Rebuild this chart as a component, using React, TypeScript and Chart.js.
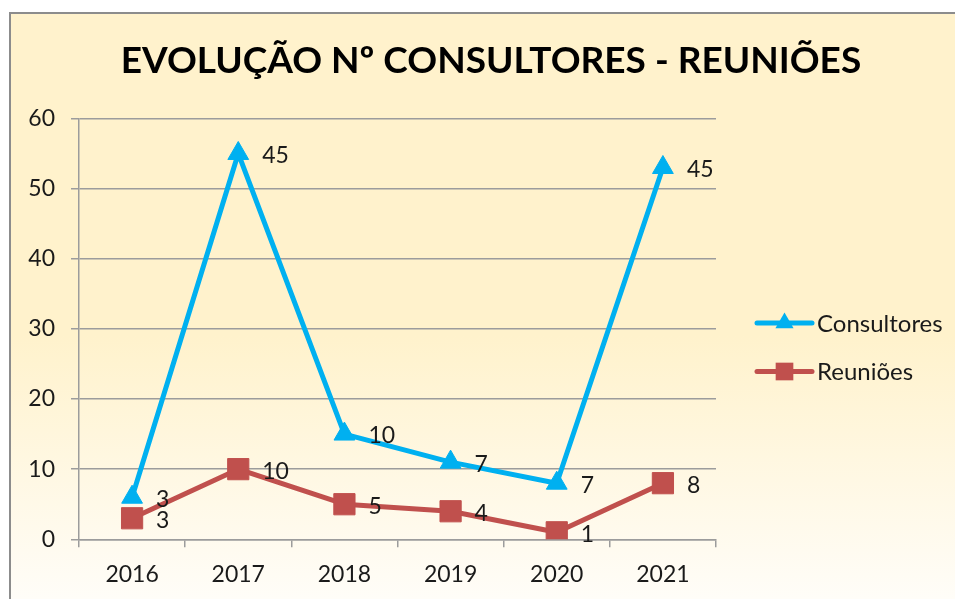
import React, { useEffect, useRef } from "react";
import { Chart, registerables } from "chart.js";
import { drawPoint } from "chart.js/helpers";

Chart.register(...registerables);

const TITLE = "EVOLUÇÃO Nº CONSULTORES - REUNIÕES";
const categories = ["2016", "2017", "2018", "2019", "2020", "2021"];
const consultoresValues = [6, 55, 15, 11, 8, 53];
const consultoresLabels = ["3", "45", "10", "7", "7", "45"];
const reunioesValues = [3, 10, 5, 4, 1, 8];
const reunioesLabels = ["3", "10", "5", "4", "1", "8"];
const yTicks = [0, 10, 20, 30, 40, 50, 60];

const FONT = "Lato";
const TEXT = "#1a1a1a";
const GRID = "#9c9c9c";
const BLUE = "#00B0F0";
const RED = "#C0504D";

const frameBackground = {
  id: "frameBackground",
  beforeDraw(chart: any) {
    const { ctx, width, height } = chart;
    ctx.save();
    ctx.fillStyle = "#ffffff";
    ctx.fillRect(0, 0, width, height);
    const g = ctx.createLinearGradient(0, 14, 0, height);
    g.addColorStop(0, "#FFF2CC");
    g.addColorStop(0.55, "#FFF2CC");
    g.addColorStop(1, "#FFFDF8");
    ctx.fillStyle = g;
    ctx.fillRect(11, 14, width - 11, height - 14);
    ctx.fillStyle = "#8c8c8c";
    ctx.fillRect(9, 12, width - 9, 2);
    ctx.fillRect(9, 12, 2, height - 12);
    ctx.restore();
  },
};

const valueLabels = {
  id: "valueLabels",
  afterDatasetsDraw(chart: any, _args: any, opts: any) {
    const ctx = chart.ctx;
    ctx.save();
    ctx.font = `23px ${FONT}`;
    ctx.fillStyle = TEXT;
    ctx.textAlign = "left";
    ctx.textBaseline = "middle";
    chart.data.datasets.forEach((_ds: any, i: number) => {
      const meta = chart.getDatasetMeta(i);
      const labels = opts.labels[i];
      meta.data.forEach((pt: any, j: number) => {
        ctx.fillText(labels[j], pt.x + opts.dx, pt.y + opts.dy);
      });
    });
    ctx.restore();
  },
};

const lineLegend = {
  id: "lineLegend",
  afterDraw(chart: any, _args: any, opts: any) {
    const ctx = chart.ctx;
    ctx.save();
    chart.data.datasets.forEach((ds: any, i: number) => {
      const y = opts.y + i * opts.spacing;
      const x0 = opts.x;
      const x1 = opts.x + opts.lineLength;
      ctx.strokeStyle = ds.borderColor;
      ctx.lineWidth = 5;
      ctx.lineCap = "round";
      ctx.beginPath();
      ctx.moveTo(x0, y);
      ctx.lineTo(x1, y);
      ctx.stroke();
      ctx.fillStyle = ds.pointBackgroundColor;
      drawPoint(
        ctx,
        { pointStyle: ds.pointStyle, radius: opts.radius[i], rotation: 0, borderWidth: 0 } as any,
        (x0 + x1) / 2,
        y
      );
      ctx.font = `24px ${FONT}`;
      ctx.fillStyle = TEXT;
      ctx.textAlign = "left";
      ctx.textBaseline = "middle";
      ctx.fillText(ds.label, x1 + 5, y + 1);
    });
    ctx.restore();
  },
};

export default function App() {
  const ref = useRef<HTMLCanvasElement | null>(null);
  useEffect(() => {
    if (!ref.current) return;
    const tickFont = { family: FONT, size: 23 };
    const chart = new Chart(ref.current, {
      type: "line",
      data: {
        labels: categories,
        datasets: [
          {
            label: "Consultores",
            data: consultoresValues,
            borderColor: BLUE,
            backgroundColor: BLUE,
            pointBackgroundColor: BLUE,
            pointBorderColor: BLUE,
            borderWidth: 5,
            pointStyle: "triangle",
            pointRadius: 12,
            pointBorderWidth: 1,
            borderJoinStyle: "round",
            tension: 0,
            order: 2,
          },
          {
            label: "Reuniões",
            data: reunioesValues,
            borderColor: RED,
            backgroundColor: RED,
            pointBackgroundColor: RED,
            pointBorderColor: RED,
            borderWidth: 5,
            pointStyle: "rect",
            pointRadius: 15,
            pointBorderWidth: 1,
            borderJoinStyle: "round",
            tension: 0,
            order: 1,
          },
        ],
      },
      options: {
        responsive: false,
        animation: false,
        events: [],
        layout: { padding: { left: 27, right: 0, top: 0, bottom: 0 } },
        plugins: {
          legend: { display: false },
          tooltip: { enabled: false },
          title: {
            display: true,
            text: TITLE,
            color: "#000000",
            font: { family: FONT, size: 37, weight: "bold" },
            padding: { top: 39, bottom: 35 },
          },
          valueLabels: { labels: [consultoresLabels, reunioesLabels], dx: 24, dy: 2 },
          lineLegend: { x: 757, y: 323, spacing: 48.5, lineLength: 55, radius: [10.5, 12.5] },
        } as any,
        scales: {
          x: {
            type: "category",
            offset: true,
            grid: {
              display: true,
              offset: true,
              drawOnChartArea: false,
              drawTicks: true,
              tickLength: 8,
              color: GRID,
              lineWidth: 1.5,
            },
            border: { display: true, color: GRID, width: 1.5 },
            ticks: { font: tickFont, color: TEXT, padding: 13 },
            afterFit: (s: any) => {
              s.height = 599 - 539.3;
            },
          },
          y: {
            type: "linear",
            min: 0,
            max: 60,
            afterBuildTicks: (s: any) => {
              s.ticks = yTicks.map((v) => ({ value: v }));
            },
            grid: { color: GRID, lineWidth: 1.5, tickLength: 8, drawTicks: true },
            border: { display: true, color: GRID, width: 1.5 },
            ticks: { font: tickFont, color: TEXT, padding: 16 },
            afterFit: (s: any) => {
              s.width = 52;
            },
          },
          y2: {
            type: "linear",
            position: "right",
            display: true,
            grid: { display: false },
            border: { display: false },
            ticks: { display: false },
            afterFit: (s: any) => {
              s.width = 239;
            },
          },
        } as any,
      },
      plugins: [frameBackground, valueLabels, lineLegend],
    });
    return () => chart.destroy();
  }, []);
  return (
    <div style={{ position: "fixed", left: 0, top: 0, width: 955, height: 599 }}>
      <canvas ref={ref} width={955} height={599} />
    </div>
  );
}
